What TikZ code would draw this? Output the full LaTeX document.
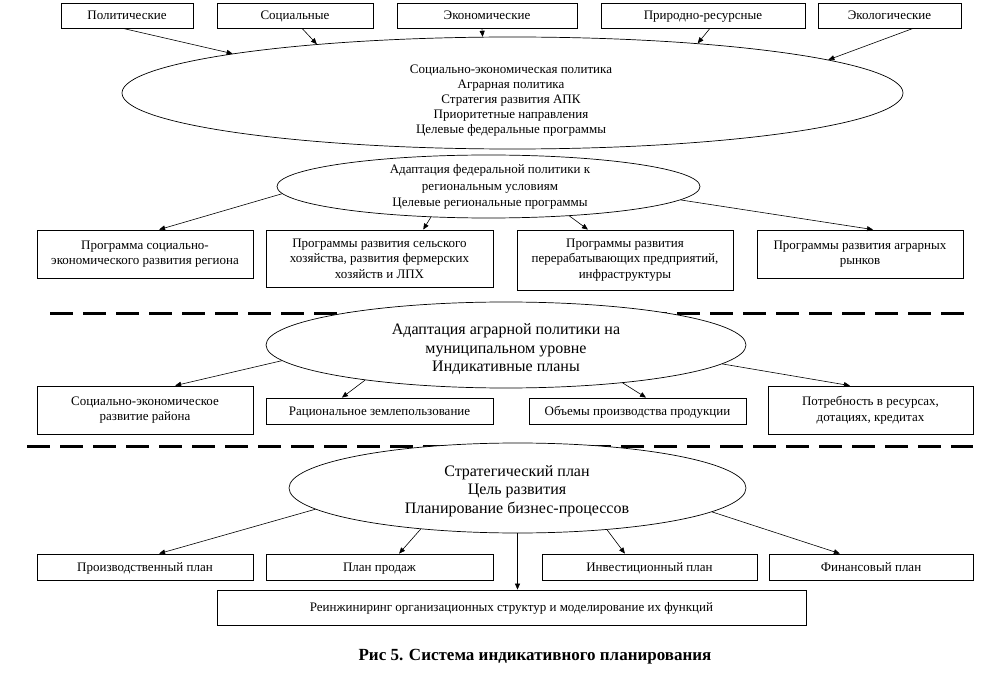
\documentclass[tikz,border=0pt]{standalone}
\usepackage{fontspec}
\setmainfont{Liberation Serif}
\usetikzlibrary{shapes.geometric,arrows.meta,calc}
\begin{document}
\begin{tikzpicture}[x=1pt,y=-1pt,
  box/.style={draw, line width=0.8pt, fill=white, align=center, inner sep=0pt,
    font=\fontsize{13}{15.5}\selectfont},
  one/.style={text height=11pt, text depth=3pt},
  ell/.style={draw, ellipse, fill=white, line width=0.7pt, inner sep=0pt},
  etxt/.style={align=center, inner sep=0pt, font=\fontsize{13}{15.2}\selectfont},
  btxt/.style={align=center, inner sep=0pt, font=\fontsize{16}{18.5}\selectfont},
  arr/.style={-{Triangle[length=6pt,width=5pt]}, line width=0.6pt},
  sepline/.style={line width=3pt, dash pattern=on 23pt off 10pt}]
\useasboundingbox (0,0) rectangle (986,687);

% separators
\coordinate (d1a) at (50,314);  \coordinate (d1b) at (965,314);
\coordinate (d2a) at (27,446);  \coordinate (d2b) at (973,446);
\draw[sepline] (d1a) -- (d1b);
\draw[sepline] (d2a) -- (d2b);

% top boxes
\node[box, one, minimum width=132, minimum height=25] (t1) at (127,15.5) {Политические};
\node[box, one, minimum width=156, minimum height=25] (t2) at (295,15.5) {Социальные};
\node[box, one, minimum width=180, minimum height=25] (t3) at (487,15.5) {Экономические};
\node[box, one, minimum width=204, minimum height=25] (t4) at (703,15.5) {Природно-ресурсные};
\node[box, one, minimum width=143, minimum height=25] (t5) at (889.5,15.5) {Экологические};

% ellipses
\node[ell, minimum width=781, minimum height=112] (e1) at (512.5,93) {};
\node[etxt] (e1t) at (511,100.5) {Социально-экономическая политика\\Аграрная политика\\Стратегия развития АПК\\Приоритетные направления\\Целевые федеральные программы};
\node[ell, minimum width=423, minimum height=63] (e2) at (488.5,186.5) {};
\node[etxt, font=\fontsize{13}{16.5}\selectfont] (e2t) at (490,187) {Адаптация федеральной политики к\\региональным условиям\\Целевые региональные программы};

\node[ell, minimum width=480, minimum height=86] (e3) at (506,345) {};
\node[btxt] (e3t) at (506,349.5) {Адаптация аграрной политики на\\муниципальном уровне\\Индикативные планы};

\node[ell, minimum width=457, minimum height=90] (e4) at (517.5,488) {};
\node[btxt] (e4t) at (517,491) {Стратегический план\\Цель развития\\Планирование бизнес-процессов};

% row 1 boxes
\node[box, minimum width=216, minimum height=48] (bA) at (145,254) {Программа социально-\\экономического развития региона};
\node[box, minimum width=227, minimum height=57] (bB) at (379.5,258.5) {Программы развития сельского\\хозяйства, развития фермерских\\хозяйств и ЛПХ};
\node[box, minimum width=216, minimum height=60] (bC) at (625,260) {Программы развития\\перерабатывающих предприятий,\\инфраструктуры};
\node[box, minimum width=206, minimum height=48] (bD) at (860,254) {Программы развития аграрных\\рынков};

% row 2 boxes
\node[box, minimum width=216, minimum height=48] (bE) at (145,410) {Социально-экономическое\\развитие района};
\node[box, one, minimum width=227, minimum height=26] (bF) at (379.5,411) {Рациональное землепользование};
\node[box, one, minimum width=217, minimum height=26] (bG) at (637.5,411) {Объемы производства продукции};
\node[box, minimum width=205, minimum height=48] (bH) at (870.5,410) {Потребность в ресурсах,\\дотациях, кредитах};

% row 3 boxes
\node[box, one, minimum width=216, minimum height=26] (bI) at (145,567) {Производственный план};
\node[box, one, minimum width=227, minimum height=26] (bJ) at (379.5,567) {План продаж};
\node[box, one, minimum width=215, minimum height=26] (bK) at (649.5,567) {Инвестиционный план};
\node[box, one, minimum width=204, minimum height=26] (bL) at (871,567) {Финансовый план};
\node[box, one, minimum width=589, minimum height=35] (bM) at (511.5,607.5) {Реинжиниринг организационных структур и моделирование их функций};

% caption
\node[font=\fontsize{17}{20}\selectfont\bfseries, inner sep=0pt] (cap) at (535,657) {Рис 5. Система индикативного планирования};

% arrows: top boxes -> e1
\draw[arr] ($(t1.south west)!0.47!(t1.south east)$) -- (e1.172.2);
\draw[arr] ($(t2.south west)!0.545!(t2.south east)$) -- (e1.166.2);
\draw[arr] ($(t3.south west)!0.472!(t3.south east)$) -- (e1.118.3);
\draw[arr] ($(t4.south west)!0.534!(t4.south east)$) -- (e1.15.4);
\draw[arr] ($(t5.south west)!0.664!(t5.south east)$) -- (e1.6.85);

% e2 -> row 1
\draw[arr] (e2.182.7) -- ($(bA.north west)!0.565!(bA.north east)$);
\draw[arr] (e2.208.7) -- ($(bB.north west)!0.692!(bB.north east)$);
\draw[arr] (e2.340.9) -- ($(bC.north west)!0.329!(bC.north east)$);
\draw[arr] (e2.356.9) -- ($(bD.north west)!0.563!(bD.north east)$);

% e3 -> row 2
\draw[arr] (e3.184.7) -- ($(bE.north west)!0.639!(bE.north east)$);
\draw[arr] (e3.194.2) -- ($(bF.north west)!0.335!(bF.north east)$);
\draw[arr] (e3.342.6) -- ($(bG.north west)!0.539!(bG.north east)$);
\draw[arr] (e3.355.4) -- ($(bH.north west)!0.4!(bH.north east)$);

% e4 -> row 3
\draw[arr] (e4.186.4) -- ($(bI.north west)!0.565!(bI.north east)$);
\draw[arr] (e4.203.5) -- ($(bJ.north west)!0.586!(bJ.north east)$);
\draw[arr] (e4.335.8) -- ($(bK.north west)!0.386!(bK.north east)$);
\draw[arr] (e4.353.2) -- ($(bL.north west)!0.348!(bL.north east)$);
\draw[arr] (e4.south) -- (e4.south |- bM.north);
\end{tikzpicture}
\end{document}
